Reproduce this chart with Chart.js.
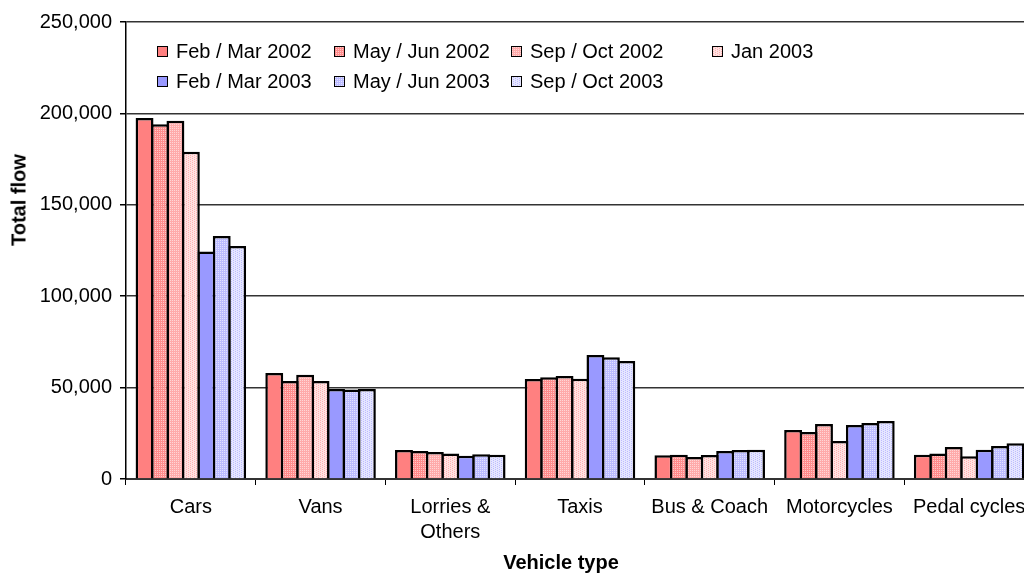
<!DOCTYPE html>
<html>
<head>
<meta charset="utf-8">
<script src="https://cdn.jsdelivr.net/npm/chart.js@4.4.0/dist/chart.umd.min.js"></script>
<style>
  html,body{margin:0;padding:0;background:#fff;overflow:hidden;}
  #wrap{position:relative;width:1040px;height:574px;font-family:"Liberation Sans",Arial,sans-serif;}
  canvas{position:absolute;left:0;top:0;}
  .lg{position:absolute;display:flex;align-items:center;font-size:20px;color:#000;white-space:nowrap;}
  .sw{width:9px;height:9px;border:1.5px solid #000;margin-right:8px;box-sizing:content-box;}
  .ytitle{position:absolute;left:19px;top:200px;transform:translate(-50%,-50%) rotate(-90deg);font-weight:bold;font-size:20px;white-space:nowrap;}
  .xtitle{position:absolute;left:561px;top:562px;transform:translate(-50%,-50%);font-weight:bold;font-size:20px;white-space:nowrap;}
</style>
</head>
<body>
<div id="wrap">
  <canvas id="c" width="1040" height="574"></canvas>
  <div class="ytitle">Total flow</div>
  <div class="xtitle">Vehicle type</div>
</div>
<script>
// data
const categories = ['Cars', 'Vans', ['Lorries &', 'Others'], 'Taxis', 'Bus & Coach', 'Motorcycles', 'Pedal cycles'];
const seriesNames = ['Feb / Mar 2002', 'May / Jun 2002', 'Sep / Oct 2002', 'Jan 2003', 'Feb / Mar 2003', 'May / Jun 2003', 'Sep / Oct 2003'];
const feb02 = [197500, 58000, 15900, 54700, 13000, 26800, 13200];
const may02 = [194000, 53600, 15300, 55700, 13200, 25700, 14000];
const sep02 = [196000, 57000, 14800, 56300, 12000, 30100, 17500];
const jan03 = [179000, 53600, 14000, 54900, 13100, 20800, 12500];
const feb03 = [124500, 49200, 12700, 67800, 15300, 29500, 16000];
const may03 = [133000, 49000, 13600, 66600, 15900, 30600, 18100];
const sep03 = [127500, 49200, 13200, 64500, 16000, 31700, 19600];
const yTicks = [0, 50000, 100000, 150000, 200000, 250000];

// small dotted tiles to imitate the excel fills
function tile(base, dot, spots) {
  const t = document.createElement('canvas');
  t.width = 4; t.height = 4;
  const g = t.getContext('2d');
  g.fillStyle = base; g.fillRect(0, 0, 4, 4);
  g.fillStyle = dot;
  spots.forEach(([x, y]) => g.fillRect(x, y, 1, 1));
  return t;
}
const tiles = [
  tile('#ff8080', '#ff8080', []),
  tile('#ff8c8c', '#ffc8c8', [[1,0],[3,2],[1,2],[3,0]]),
  tile('#ffaaaa', '#ffd6d6', [[0,0],[2,2],[2,0],[0,2]]),
  tile('#ffe2e2', '#ffb0b0', [[0,0],[0,2],[2,1],[2,3]]),
  tile('#9999ff', '#9999ff', []),
  tile('#bcbcff', '#e2e2ff', [[0,0],[2,2],[2,0],[0,2]]),
  tile('#e6e6ff', '#bcbcff', [[1,0],[1,2],[3,1],[3,3]])
];
const ctx = document.getElementById('c').getContext('2d');
const fills = tiles.map(t => ctx.createPattern(t, 'repeat'));
const values = [feb02, may02, sep02, jan03, feb03, may03, sep03];

// legend inside the plot, 4 columns by 2 rows like the original
const legendX = [157, 334, 511, 712, 157, 334, 511];
const legendY = [51, 51, 51, 51, 81, 81, 81];
const wrap = document.getElementById('wrap');
seriesNames.forEach((n, i) => {
  const d = document.createElement('div');
  d.className = 'lg';
  d.style.left = legendX[i] + 'px';
  d.style.top = (legendY[i] - 12) + 'px';
  d.style.height = '24px';
  d.innerHTML = `<span class="sw" style="background-image:url(${tiles[i].toDataURL()})"></span><span>${n}</span>`;
  wrap.appendChild(d);
});

const font = { family: '"Liberation Sans", Arial, sans-serif', size: 20 };

new Chart(ctx, {
  type: 'bar',
  data: {
    labels: categories,
    datasets: values.map((v, i) => ({
      label: seriesNames[i], data: v, backgroundColor: fills[i],
      borderColor: '#000', borderWidth: 2.5, borderSkipped: 'start',
      // bars a touch wider than their slot so neighbours share one border
      categoryPercentage: 0.833, barPercentage: 1.16
    }))
  },
  options: {
    responsive: false, animation: false, devicePixelRatio: 1,
    layout: { padding: { top: 22, right: 6, left: 0, bottom: 0 } },
    plugins: { legend: { display: false }, tooltip: { enabled: false } },
    scales: {
      x: {
        afterFit: s => { s.height = 95; },
        grid: { drawOnChartArea: false, drawTicks: true, tickLength: 6, tickColor: '#000', offset: true },
        border: { display: true, color: '#333', width: 2 },
        ticks: { color: '#000', font: { ...font, lineHeight: 1.25 }, padding: 10, maxRotation: 0, autoSkip: false }
      },
      y: {
        min: 0, max: 250000,
        afterFit: s => { s.width = 126; },
        afterBuildTicks: s => { s.ticks = yTicks.map(v => ({ value: v })); },
        grid: { color: '#333', lineWidth: 1.5, drawTicks: true, tickLength: 6, tickColor: '#000' },
        border: { display: true, color: '#000', width: 1.5 },
        ticks: { color: '#000', font, padding: 8, callback: v => v.toLocaleString('en-US') }
      }
    }
  }
});
</script>
</body>
</html>
